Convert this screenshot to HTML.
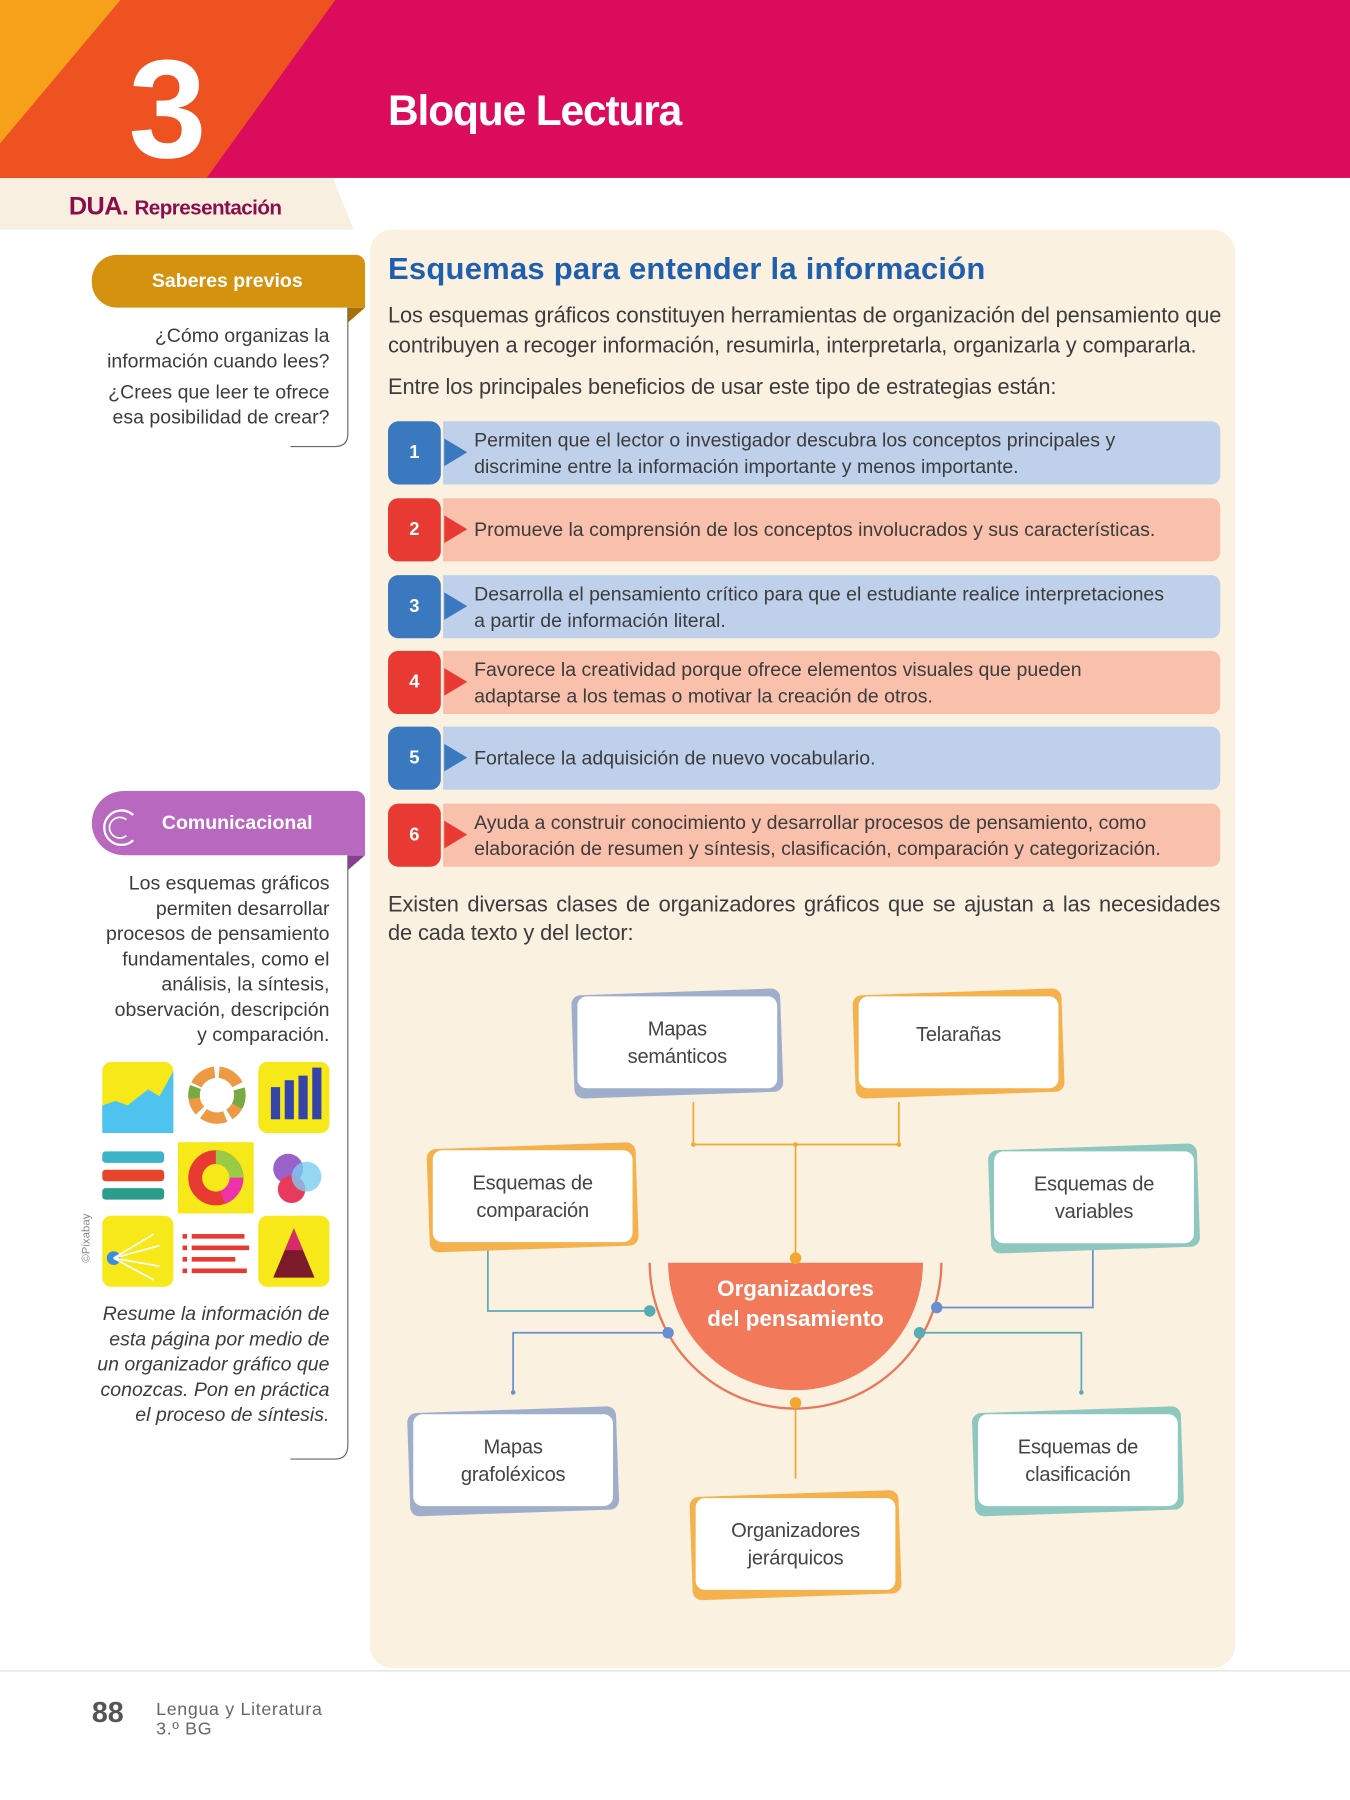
<!DOCTYPE html>
<html><head><meta charset="utf-8">
<style>
*{margin:0;padding:0;box-sizing:border-box}
html,body{width:1350px;height:1800px;overflow:hidden;background:#fff}
#s{position:absolute;left:0;top:0;width:1176px;height:1568px;transform:scale(1.14796);transform-origin:0 0;font-family:"Liberation Sans",sans-serif;color:#3a3a3a}
.a{position:absolute}
.p{font-size:19px;letter-spacing:-0.1px;color:#3c3c3c;white-space:nowrap}
.num{position:absolute;left:338px;width:46px;height:55px;border-radius:9px;color:#fff;font-weight:bold;font-size:16px;display:flex;align-items:center;justify-content:center}
.bar{position:absolute;left:386px;width:677px;height:55px;border-radius:0 8px 8px 0;display:flex;align-items:center;padding-left:27px;font-size:17px;letter-spacing:0;color:#3c3c3c;line-height:23px;white-space:nowrap}
.bar:before{content:"";position:absolute;left:1px;top:15px;border-left:20px solid;border-top:12px solid transparent;border-bottom:12px solid transparent}
.b.bar{background:#BFD0EA}.b.bar:before{border-left-color:#3A78C0}
.r.bar{background:#F9C0AC}.r.bar:before{border-left-color:#E83A33}
.box{position:absolute;width:174px;height:80px}
.box .bg{position:absolute;inset:-4px -4px -6px -4px;border-radius:8px;transform:rotate(-2deg)}
.box .fg{position:absolute;inset:0;background:#fff;border-radius:8px;display:flex;align-items:center;justify-content:center;text-align:center;font-size:17.5px;line-height:24px;color:#444;letter-spacing:-0.2px}
.sd{font-size:17px;color:#3c3c3c;text-align:right;letter-spacing:0;line-height:22px;position:absolute;right:889px;white-space:nowrap}
</style></head><body><div id="s">
<div class="a" style="left:0;top:0;width:1176px;height:155px;background:#DC0C5C"></div>
<svg class="a" style="left:0;top:0" width="300" height="155"><polygon points="105,0 292,0 180,155 0,155 0,125" fill="#EE5220"/><polygon points="0,0 105,0 0,125" fill="#F7A01A"/></svg>
<div class="a" style="left:112px;top:30px;font-size:122px;color:#fff;font-weight:bold;line-height:130px">3</div>
<div class="a" style="left:338px;top:76px;font-size:37px;color:#fff;font-weight:bold;letter-spacing:-1px">Bloque Lectura</div>
<svg class="a" style="left:0;top:155px" width="320" height="46"><polygon points="0,0 290,0 308,45 0,45" fill="#F8EFE0"/></svg>
<div class="a" style="left:60px;top:167px;font-size:21px;color:#8B0D4B;white-space:nowrap;letter-spacing:-0.5px"><b style="font-size:22px">DUA.</b> <span style="font-size:18px;font-weight:bold">Representación</span></div>
<div class="a" style="left:322px;top:200px;width:754px;height:1253px;background:#FAF1E1;border-radius:20px"></div>
<div class="a" style="left:338px;top:219px;font-size:27px;font-weight:bold;color:#1F5FAD;letter-spacing:0.2px;white-space:nowrap">Esquemas para entender la información</div>
<div class="a p" style="left:338px;top:263px;line-height:26px">Los esquemas gráficos constituyen herramientas de organización del pensamiento que<br>contribuyen a recoger información, resumirla, interpretarla, organizarla y compararla.</div>
<div class="a p" style="left:338px;top:327px">Entre los principales beneficios de usar este tipo de estrategias están:</div>

<div class="num" style="top:367px;background:#3A78C0">1</div><div class="bar b" style="top:367px">Permiten que el lector o investigador descubra los conceptos principales y<br>discrimine entre la información importante y menos importante.</div>
<div class="num" style="top:434px;background:#E83A33">2</div><div class="bar r" style="top:434px">Promueve la comprensión de los conceptos involucrados y sus características.</div>
<div class="num" style="top:501px;background:#3A78C0">3</div><div class="bar b" style="top:501px">Desarrolla el pensamiento crítico para que el estudiante realice interpretaciones<br>a partir de información literal.</div>
<div class="num" style="top:567px;background:#E83A33">4</div><div class="bar r" style="top:567px">Favorece la creatividad porque ofrece elementos visuales que pueden<br>adaptarse a los temas o motivar la creación de otros.</div>
<div class="num" style="top:633px;background:#3A78C0">5</div><div class="bar b" style="top:633px">Fortalece la adquisición de nuevo vocabulario.</div>
<div class="num" style="top:700px;background:#E83A33">6</div><div class="bar r" style="top:700px">Ayuda a construir conocimiento y desarrollar procesos de pensamiento, como<br>elaboración de resumen y síntesis, clasificación, comparación y categorización.</div>

<div class="a p" style="left:338px;top:776px;line-height:25px;width:725px;white-space:normal;text-align:justify;text-align-last:left">Existen diversas clases de organizadores gráficos que se ajustan a las necesidades de cada texto y del lector:</div>

<svg class="a" style="left:0;top:0" width="1176" height="1568">
<g stroke="#F0A830" stroke-width="1.5" fill="none"><path d="M604 960V997H783V960M693 997V1096M693 1222V1288"/></g>
<circle cx="604" cy="997" r="2" fill="#F0A830"/><circle cx="783" cy="997" r="2" fill="#F0A830"/><circle cx="693" cy="997" r="2" fill="#F0A830"/>
<path d="M582 1100H804A111 111 0 0 1 582 1100Z" fill="#F27A5A"/>
<path d="M566 1100A127 127 0 0 0 820 1100" stroke="#E8785A" stroke-width="2" fill="none"/>
<g fill="none" stroke-width="1.5">
<path d="M425 1088V1142H566" stroke="#5AACB4"/>
<path d="M582 1161H447V1213" stroke="#6A8FD0"/>
<path d="M816 1139H952V1088" stroke="#6A8FD0"/>
<path d="M801 1161H942V1213" stroke="#5AACB4"/>
</g>
<circle cx="566" cy="1142" r="5" fill="#5AACB4"/><circle cx="582" cy="1161" r="5" fill="#6A8FD0"/>
<circle cx="816" cy="1139" r="5" fill="#6A8FD0"/><circle cx="801" cy="1161" r="5" fill="#5AACB4"/>
<circle cx="693" cy="1096" r="5" fill="#F0A830"/><circle cx="693" cy="1222" r="5" fill="#F0A830"/>
<circle cx="447" cy="1213" r="2" fill="#6A8FD0"/><circle cx="942" cy="1213" r="2" fill="#5AACB4"/>
</svg>
<div class="a" style="left:582px;top:1110px;width:222px;text-align:center;color:#fff;font-weight:bold;font-size:19.5px;line-height:26px">Organizadores<br>del pensamiento</div>

<div class="box" style="left:503px;top:868px"><div class="bg" style="background:#9FAFCB"></div><div class="fg">Mapas<br>semánticos</div></div>
<div class="box" style="left:748px;top:868px"><div class="bg" style="background:#F4B14C"></div><div class="fg" style="align-items:flex-start;padding-top:21px">Telarañas</div></div>
<div class="box" style="left:377px;top:1002px"><div class="bg" style="background:#F4B14C"></div><div class="fg">Esquemas de<br>comparación</div></div>
<div class="box" style="left:866px;top:1003px"><div class="bg" style="background:#8EC7BF"></div><div class="fg">Esquemas de<br>variables</div></div>
<div class="box" style="left:360px;top:1232px"><div class="bg" style="background:#9FAFCB"></div><div class="fg">Mapas<br>grafoléxicos</div></div>
<div class="box" style="left:606px;top:1305px"><div class="bg" style="background:#F4B14C"></div><div class="fg">Organizadores<br>jerárquicos</div></div>
<div class="box" style="left:852px;top:1232px"><div class="bg" style="background:#8EC7BF"></div><div class="fg">Esquemas de<br>clasificación</div></div>

<div class="a" style="left:80px;top:222px;width:238px;height:46px;background:#D4920E;border-radius:22px 8px 0 22px;color:#fff;font-weight:bold;font-size:17px;display:flex;align-items:center;justify-content:center;padding-right:2px">Saberes previos</div>
<svg class="a" style="left:303px;top:268px" width="16" height="14"><polygon points="0,0 15,0 0,13" fill="#A86F08"/></svg>
<div class="sd" style="top:282px">¿Cómo organizas la<br>información cuando lees?</div>
<div class="sd" style="top:331px">¿Crees que leer te ofrece<br>esa posibilidad de crear?</div>
<svg class="a" style="left:250px;top:268px" width="60" height="126"><path d="M53 0V110Q53 121 42 121H3" stroke="#666" stroke-width="1" fill="none"/></svg>

<div class="a" style="left:80px;top:689px;width:238px;height:56px;background:#B968C0;border-radius:28px 8px 0 28px;color:#fff;font-weight:bold;font-size:17px;padding-left:61px;line-height:56px">Comunicacional</div>
<svg class="a" style="left:84px;top:700px" width="40" height="42"><path d="M32 10A15 15 0 1 0 32 32" stroke="#fff" stroke-width="2" fill="none"/><path d="M26 14A9 9 0 1 0 26 28" stroke="#fff" stroke-width="1.5" fill="none"/></svg>
<svg class="a" style="left:303px;top:745px" width="16" height="14"><polygon points="0,0 15,0 0,13" fill="#8A3E92"/></svg>
<div class="sd" style="top:759px">Los esquemas gráficos<br>permiten desarrollar<br>procesos de pensamiento<br>fundamentales, como el<br>análisis, la síntesis,<br>observación, descripción<br>y comparación.</div>
<svg class="a" style="left:250px;top:745px" width="60" height="530"><path d="M53 0V514Q53 526 42 526H3" stroke="#666" stroke-width="1" fill="none"/></svg>

<svg class="a" style="left:89px;top:925px" width="198" height="196">
<rect x="0" y="0" width="62" height="62" rx="8" fill="#F7E81A"/><path d="M0 38L12 34L22 38L40 24L50 30L62 8V62H0Z" fill="#4FC3F0"/>
<circle cx="100" cy="29" r="20" fill="none" stroke="#E94" stroke-width="10" stroke-dasharray="20 4"/><circle cx="100" cy="29" r="20" fill="none" stroke="#7A4" stroke-width="10" stroke-dasharray="10 50"/>
<rect x="136" y="0" width="62" height="62" rx="8" fill="#F7E81A"/><rect x="147" y="22" width="8" height="28" fill="#3544A8"/><rect x="159" y="16" width="8" height="34" fill="#3544A8"/><rect x="171" y="12" width="8" height="38" fill="#3544A8"/><rect x="183" y="5" width="8" height="45" fill="#3544A8"/>
<rect x="0" y="78" width="54" height="10" rx="3" fill="#3BB3C8"/><rect x="0" y="94" width="54" height="10" rx="3" fill="#E8442A"/><rect x="0" y="110" width="54" height="10" rx="3" fill="#2A9E8A"/>
<rect x="66" y="70" width="66" height="62" fill="#F7E81A"/><circle cx="99" cy="101" r="18" fill="none" stroke="#E83A33" stroke-width="12"/><path d="M99 83A18 18 0 0 1 117 101" stroke="#9C4" stroke-width="12" fill="none"/><path d="M117 101A18 18 0 0 1 105 118" stroke="#E3A" stroke-width="12" fill="none"/>
<circle cx="162" cy="93" r="13" fill="#9A62C8"/><circle cx="165" cy="111" r="12" fill="#E83A5A"/><circle cx="178" cy="100" r="13" fill="#7ACCF0" opacity=".8"/>
<rect x="0" y="134" width="62" height="62" rx="8" fill="#F7E81A"/><circle cx="10" cy="171" r="6" fill="#3A8EE0"/><g stroke="#fff" stroke-width="1.5"><path d="M10 171L45 150M10 171L50 160M10 171L50 178M10 171L45 190"/></g>
<g fill="#E83A33"><rect x="70" y="150" width="4" height="4"/><rect x="78" y="150" width="46" height="4"/><rect x="70" y="160" width="4" height="4"/><rect x="78" y="160" width="50" height="4"/><rect x="70" y="170" width="4" height="4"/><rect x="78" y="170" width="38" height="4"/><rect x="70" y="180" width="4" height="4"/><rect x="78" y="180" width="48" height="4"/></g>
<rect x="136" y="134" width="62" height="62" rx="8" fill="#F7E81A"/><polygon points="167,145 185,188 149,188" fill="#7A1A2A"/><polygon points="167,145 175,164 159,164" fill="#D82A6A"/>
</svg>
<div class="a" style="left:70px;top:1100px;font-size:10px;color:#888;transform:rotate(-90deg);transform-origin:0 0">©Pixabay</div>
<div class="sd" style="top:1134px;font-style:italic">Resume la información de<br>esta página por medio de<br>un organizador gráfico que<br>conozcas. Pon en práctica<br>el proceso de síntesis.</div>

<div class="a" style="left:0;top:1455px;width:1176px;height:1px;background:#ddd"></div>
<div class="a" style="left:80px;top:1478px;font-size:25px;font-weight:bold;color:#555">88</div>
<div class="a" style="left:136px;top:1481px;font-size:15.5px;color:#666;line-height:17px;letter-spacing:0.6px">Lengua y Literatura<br>3.º BG</div>
</div></body></html>
